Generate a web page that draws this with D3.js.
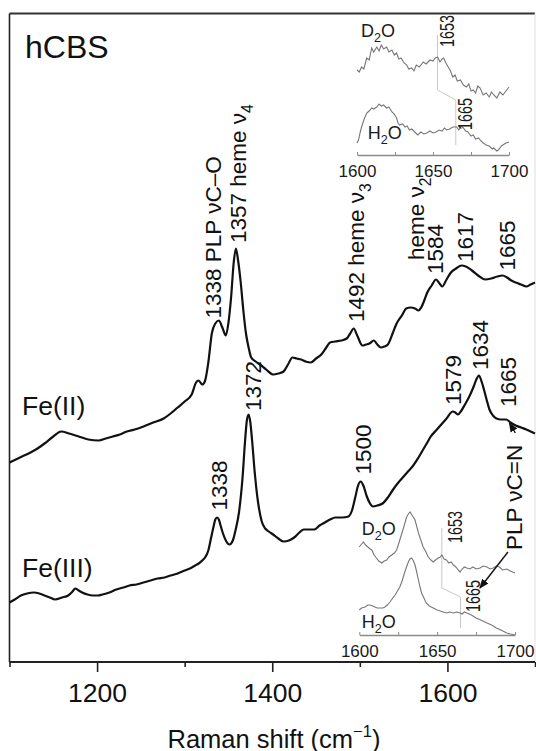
<!DOCTYPE html>
<html><head><meta charset="utf-8">
<script src="https://cdn.jsdelivr.net/npm/d3@7"></script>
<style>
body{margin:0;background:#fff}
svg{display:block;font-family:"Liberation Sans",Arial,Helvetica,sans-serif}
</style>
</head><body>
<svg id="c" width="536" height="751"></svg>
<script>
// ---------------- DATA ----------------
// Main spectra (Raman shift in cm-1, intensity arbitrary units)
const waveFeII = [1100,1112,1124,1132,1140,1150,1159,1168,1179,1190,1202,1210,1218,1226,1234,1243,1253,1264,1276,1284,1292,1300,1308,1313,1316,1320,1323,1327,1331,1335,1339,1343,1347,1350,1353,1356,1358.5,1361,1364,1367,1370,1373,1376,1381,1386,1393,1401,1407,1413,1418,1423,1428,1433,1438,1444,1450,1456,1461,1466,1472,1479,1485,1489,1493,1497,1503,1507,1511,1516,1520,1524,1528,1532,1537,1542,1548,1553,1558,1563,1567,1570,1574,1577,1582,1587,1591,1594,1599,1604,1610,1616,1621,1628,1635,1643,1650,1657,1663,1668,1673,1678,1684,1690,1695,1700];
const valFeII  = [200,205,210,214,219,226,231,229,226,223,222,224,226,228,231,233,236,240,244,249,255,261,268,280,282,278,281,300,329,339,342,335,327,340,365,400,414,402,380,352,329,315,305,301,298,293,288,289,291,298,305,304,303,301,300,304,308,314,320,321,322,324,329,334,327,317,318,319,322,318,315,316,318,328,339,347,354,355,354,352,355,363,370,377,383,379,376,383,390,394,397,396,392,387,383,384,386,387,385,382,380,378,376,378,380];

const waveFeIII = [1100,1106,1113,1120,1128,1134,1140,1146,1152,1160,1167,1172,1175,1179,1183,1189,1195,1201,1206,1214,1222,1230,1237,1245,1253,1261,1269,1277,1284,1292,1300,1306,1312,1316,1320,1324,1327,1330,1333,1335,1337,1339,1341,1343,1347,1351,1355,1358,1362,1366,1369,1371,1373,1375,1377,1380,1384,1388,1392,1396,1401,1407,1413,1419,1425,1431,1436,1442,1448,1454,1460,1466,1472,1480,1487,1491,1495,1498,1501,1504,1508,1511,1515,1520,1526,1532,1538,1544,1550,1556,1561,1567,1573,1577,1581,1587,1593,1599,1606,1609,1612,1616,1620,1625,1630,1633,1636,1639,1642,1645,1648,1652,1656,1661,1667,1672,1678,1684,1690,1695,1700];
const valFeIII  = [60,63,67,69,70,69,67,65,63,65,67,71,74,72,70,68,67,67,68,70,73,75,77,78,80,82,84,85,87,89,92,94,97,99,102,106,112,124,136,143,145,143,137,131,122,118,122,132,150,184,222,242,248,240,222,190,159,141,134,131,128,124,121,122,125,130,133,133,133,137,140,143,145,145,146,152,166,177,181,177,166,160,156,157,159,165,173,180,186,192,197,205,214,220,226,232,238,244,251,250,248,252,258,266,276,283,287,281,272,262,253,247,244,243,243,240,237,235,233,231,229];

// Inset 1 (Fe(II), 1600-1700 cm-1)
const in1WaveD2O = [1600,1601.5,1603,1604.5,1606.4,1608,1609.7,1611,1613,1614.5,1616,1617.5,1619.5,1621,1623,1624.5,1626,1627.5,1629,1631,1632.7,1634,1636,1637.5,1639,1641,1643.6,1645.5,1648,1650,1651.5,1653,1654.6,1656,1657,1658.5,1660,1661.5,1663,1664.5,1666,1668,1670,1672,1673.5,1675,1676.5,1678,1679.5,1681,1683,1685,1687,1688.5,1690,1692,1694,1696,1698,1700];
const in1ValD2O  = [85,83,88,86,97,95,107,103,108,104,110,106,108,103,105,100,102,96,97,92,90,86,87,84,90,88,93,91,95,94,97,98,93,96,97,92,88,84,78,80,74,75,70,68,71,64,65,62,69,67,60,62,58,63,60,57,63,60,64,68];
const in1WaveH2O = [1600,1601,1602,1603,1604.5,1606.4,1608,1609.7,1611,1613,1614.5,1616,1617.5,1619.5,1621,1623,1624.5,1626,1627,1628,1630,1631.6,1633,1634.5,1636,1638,1640,1642,1644,1646,1648,1650,1652,1654,1656,1657.5,1659,1661,1663,1665.6,1667,1668.5,1670,1671.5,1673,1675,1676.5,1678,1680,1681,1683,1685,1687,1689,1690,1692,1693,1695,1696,1698,1700];
const in1ValH2O  = [12,15,22,28,35,42,44,47,46,48,51,49,50,47,48,43,41,37,32,30,31,28,29,25,26,23,20,23,21,22,24,22,23,25,24,27,25,26,28,28,25,29,27,24,23,19,20,16,17,15,12,10,9,6,7,4,5,9,10,12,13];
const in1Guide = [[1653,120],[1653,65],[1665,55],[1665,10]];

// Inset 2 (Fe(III), 1600-1700 cm-1)
const in2WaveD2O = [1600,1601.5,1602.6,1604,1605.5,1607,1608,1609.5,1611,1612.5,1614.4,1616,1617.6,1619,1620.8,1622.5,1624,1625,1626,1627,1628,1629.3,1630.4,1631.5,1632.6,1633.8,1635,1635.8,1637,1638,1639.5,1641,1642.5,1644.3,1646,1647.5,1649,1650.7,1652,1653,1654.5,1656,1657.5,1659,1660.4,1662,1663.5,1664.7,1666,1667.5,1669,1671,1673,1675,1677.5,1679.5,1682,1684,1686,1688,1690,1692,1694.7,1697,1700];
const in2ValD2O  = [88,91,93,90,88,86,85,80,77,74,72,74,75,78,80,82,85,90,95,100,105,112,118,121,123,120,117,115,108,102,95,88,84,78,75,73,75,77,78,80,76,75,72,73,70,68,65,63,66,68,67,66,68,66,67,69,68,66,67,69,68,65,66,64,62];
const in2WaveH2O = [1600,1601.5,1603.7,1605.5,1607,1608.5,1610,1611.5,1613,1615,1616.5,1618,1619.7,1621.5,1623,1624.5,1626,1627.5,1629,1630.3,1631.5,1632.5,1633.6,1634.8,1635.8,1637,1638,1639,1640,1641.5,1643,1645,1647.5,1650,1652,1654,1656,1658,1660.4,1662.5,1664.7,1666,1667.5,1669,1672,1675,1678,1682,1685,1688,1691,1694.7,1697,1700];
const in2ValH2O  = [25,27,28,30,30,29,28,27,27,27,28,30,33,37,40,44,48,54,62,68,73,76,77,74,70,62,55,48,42,37,32,29,27,25,24,23,22,23,22,23,22,21,23,22,20,17,15,12,10,7,5,2,1,0];
const in2Guide = [[1653,107],[1653,47],[1665,38],[1665,7]];

// Axis ticks
const majorTicks = [1200,1400,1600];
const minorTicks = [1100,1300,1500,1700];
const insetTicks = [1600,1625,1650,1675,1700];
const insetTickLabels = [1600,1650,1700];

// Peak annotations (text, wavenumber, intensity at text start)
const labFeIIText = ["1338 PLP νC–O","1357 heme ν_4","1492 heme ν_3","heme ν_2","1584","1617","1665"];
const labFeIIWave = [1333,1361.4,1496,1564,1585.7,1620,1668];
const labFeIIVal  = [344,419.5,340.5,402.5,388.5,400.5,392];
const labFeIIIText = ["1338","1372","1500","1579","1634","1665","PLP νC=N"];
const labFeIIIWave = [1339,1378,1503.5,1607,1637,1669,1676];
const labFeIIIVal  = [152,251.5,188,257.5,292.5,255.5,112.5];

const in1LabText = ["1653","1665"];
const in1LabWave = [1659,1671];
const in1LabVal  = [108,25];
const in2LabText = ["1653","1665"];
const in2LabWave = [1661.5,1673.3];
const in2LabVal  = [92,23];

// ---------------- DRAW ----------------
const svg = d3.select("#c");
const x = d3.scaleLinear().domain([1100,1700]).range([9.5,535]);
const y = d3.scaleLinear().domain([0,650]).range([662.5,12.5]);
const xi1 = d3.scaleLinear().domain([1600,1700]).range([357,509]);
const yi1 = d3.scaleLinear().domain([0,150]).range([155,5]);
const xi2 = d3.scaleLinear().domain([1600,1700]).range([359.3,515]);
const yi2 = d3.scaleLinear().domain([0,150]).range([635,485]);

const ink = "#111";

// rich text: _c subscript single char, ^{..} superscript
function rich(t, str, fs) {
  const parts = str.split(/(_.|\^\{[^}]*\})/).filter(s => s.length);
  let shift = 0;
  parts.forEach(p => {
    let txt = p, size = fs, target = 0;
    if (p[0] === "_") { txt = p.slice(1); size = fs*0.7; target = fs*0.3; }
    else if (p[0] === "^") { txt = p.slice(2,-1); size = fs*0.65; target = -fs*0.42; }
    t.append("tspan").attr("font-size", size).attr("dy", target - shift).text(txt);
    shift = target;
  });
}

// frame
svg.append("line").attr("x1",9.5).attr("x2",535).attr("y1",13.5).attr("y2",13.5).attr("stroke","#333").attr("stroke-width",2);
svg.append("line").attr("x1",9.5).attr("x2",9.5).attr("y1",13.5).attr("y2",662).attr("stroke","#222").attr("stroke-width",1.6);
svg.append("line").attr("x1",535).attr("x2",535).attr("y1",13.5).attr("y2",662).attr("stroke","#ddd").attr("stroke-width",1);

// main axis
const axMaj = svg.append("g").attr("transform","translate(0,662)")
  .call(d3.axisBottom(x).tickValues(majorTicks).tickSize(10).tickSizeOuter(0).tickFormat(d3.format("d")));
axMaj.select(".domain").remove();
axMaj.selectAll("line").attr("stroke","#222").attr("stroke-width",1.6);
axMaj.selectAll("text").attr("y",40).attr("dy",0).attr("font-size",26.5).attr("fill",ink).attr("font-family","Liberation Sans, Arial, sans-serif");
const axMin = svg.append("g").attr("transform","translate(0,662)")
  .call(d3.axisBottom(x).tickValues(minorTicks).tickSize(5).tickSizeOuter(0).tickFormat(""));
axMin.select(".domain").remove();
axMin.selectAll("line").attr("stroke","#222").attr("stroke-width",1.6);
svg.append("line").attr("x1",9.5).attr("x2",535).attr("y1",662).attr("y2",662).attr("stroke","#222").attr("stroke-width",2);

// axis title
const ttl = svg.append("text").attr("x",274).attr("y",747.5).attr("text-anchor","middle").attr("font-size",25.5).attr("fill",ink);
rich(ttl, "Raman shift (cm^{−1})", 25.5);

// main spectra
const mainLine = d3.line().x(d => x(d[0])).y(d => y(d[1])).curve(d3.curveMonotoneX);
svg.append("path").datum(d3.zip(waveFeII, valFeII)).attr("d", mainLine)
  .attr("fill","none").attr("stroke",ink).attr("stroke-width",2.2).attr("stroke-linejoin","round");
svg.append("path").datum(d3.zip(waveFeIII, valFeIII)).attr("d", mainLine)
  .attr("fill","none").attr("stroke",ink).attr("stroke-width",2.2).attr("stroke-linejoin","round");

// insets
function inset(xs, ys, wD, vD, wH, vH, guide, axisY, labT, labW, labV, d2oPos, h2oPos) {
  const g = svg.append("g");
  const ln = d3.line().x(d => xs(d[0])).y(d => ys(d[1]));
  g.append("path").datum(guide).attr("d", ln).attr("fill","none").attr("stroke","#c8c8c8").attr("stroke-width",1);
  g.append("path").datum(d3.zip(wD, vD)).attr("d", ln).attr("fill","none").attr("stroke","#777").attr("stroke-width",1.1);
  g.append("path").datum(d3.zip(wH, vH)).attr("d", ln).attr("fill","none").attr("stroke","#777").attr("stroke-width",1.1);
  const ax = g.append("g").attr("transform",`translate(0,${axisY})`)
    .call(d3.axisBottom(xs).tickValues(insetTicks).tickSize(-3).tickSizeOuter(0)
      .tickFormat(d => insetTickLabels.includes(d) ? d : ""));
  ax.select(".domain").attr("stroke","#8a8a8a").attr("stroke-width",1.3);
  ax.selectAll("line").attr("stroke","#8a8a8a");
  ax.selectAll("text").attr("y",21.5).attr("dy",0).attr("font-size",17).attr("fill","#1a1a1a").attr("font-family","Liberation Sans, Arial, sans-serif");
  labT.forEach((t,i) => {
    g.append("text").attr("transform",`translate(${xs(labW[i])},${ys(labV[i])}) rotate(-90) scale(0.72,1)`)
      .attr("dy","0.35em").attr("font-size",20).attr("fill","#1a1a1a").text(t);
  });
  const d2o = g.append("text").attr("x", xs(d2oPos[0])).attr("y", ys(d2oPos[1])).attr("font-size",18).attr("fill","#1a1a1a");
  rich(d2o, "D_2O", 18);
  const h2o = g.append("text").attr("x", xs(h2oPos[0])).attr("y", ys(h2oPos[1])).attr("font-size",18).attr("fill","#1a1a1a");
  rich(h2o, "H_2O", 18);
}
inset(xi1, yi1, in1WaveD2O, in1ValD2O, in1WaveH2O, in1ValH2O, in1Guide, 155, in1LabText, in1LabWave, in1LabVal, [1602.6,118], [1607,16]);
inset(xi2, yi2, in2WaveD2O, in2ValD2O, in2WaveH2O, in2ValH2O, in2Guide, 635, in2LabText, in2LabWave, in2LabVal, [1601.5,100], [1601.5,7]);

// main peak labels
function peakLabels(texts, waves, vals) {
  texts.forEach((t,i) => {
    const el = svg.append("text").attr("transform",`translate(${x(waves[i])},${y(vals[i])}) rotate(-90)`)
      .attr("font-size",22.5).attr("fill",ink);
    const fs = 22.5;
    const parts = t.split(/(_.)/).filter(s => s.length);
    let shift = 0.35*fs;
    let first = true;
    parts.forEach(p => {
      let txt = p, size = fs, target = 0.35*fs;
      if (p[0] === "_") { txt = p.slice(1); size = fs*0.7; target = 0.35*fs + fs*0.3; }
      el.append("tspan").attr("font-size", size).attr("dy", first ? target : target - shift).text(txt);
      shift = target; first = false;
    });
  });
}
peakLabels(labFeIIText, labFeIIWave, labFeIIVal);
peakLabels(labFeIIIText, labFeIIIWave, labFeIIIVal);

// arrows for PLP νC=N
const defs = svg.append("defs");
defs.append("marker").attr("id","ah").attr("viewBox","0 0 10 10").attr("refX",9).attr("refY",5)
  .attr("markerWidth",7).attr("markerHeight",7).attr("orient","auto-start-reverse")
  .append("path").attr("d","M0,1 L10,5 L0,9 Z").attr("fill",ink);
const arrows = [[[1677.6,229.5],[1670.8,239.5]], [[1669.1,110.5],[1637.1,74.5]]];
arrows.forEach(a => {
  svg.append("line").attr("x1",x(a[0][0])).attr("y1",y(a[0][1])).attr("x2",x(a[1][0])).attr("y2",y(a[1][1]))
    .attr("stroke",ink).attr("stroke-width",1.4).attr("marker-end","url(#ah)");
});

// state labels
svg.append("text").attr("x",25).attr("y",58).attr("font-size",32).attr("fill",ink).text("hCBS");
svg.append("text").attr("x",22).attr("y",415).attr("font-size",26.5).attr("fill",ink).text("Fe(II)");
svg.append("text").attr("x",22).attr("y",577).attr("font-size",26.5).attr("fill",ink).text("Fe(III)");
</script>
</body></html>
